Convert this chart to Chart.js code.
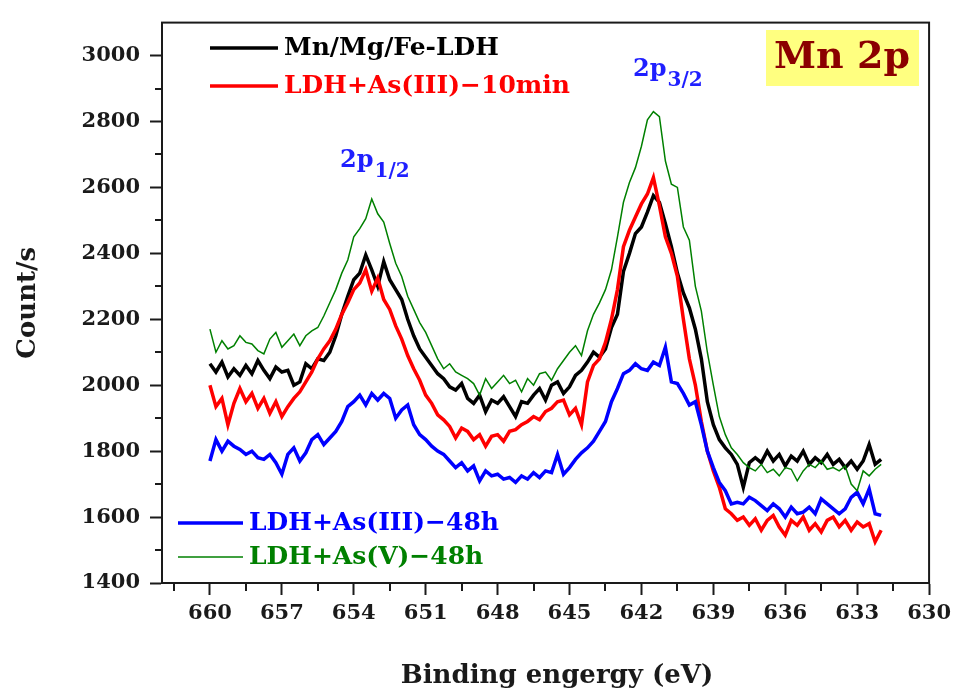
<!DOCTYPE html>
<html>
<head>
<meta charset="utf-8">
<title>Mn 2p XPS spectra</title>
<script src="https://cdn.jsdelivr.net/npm/chart.js@4.4.1/dist/chart.umd.min.js"></script>
<style>
  html, body { margin: 0; padding: 0; background: #ffffff; }
  #wrap { width: 957px; height: 691px; }
</style>
</head>
<body>
<div id="wrap"><canvas id="xps" width="957" height="691"></canvas></div>
<script>
// Binding energy grid (eV), high to low, 0.25 eV steps
const energy = [
  660,659.75,659.5,659.25,659,658.75,658.5,658.25,658,657.75,657.5,657.25,657,656.75,656.5,656.25,656,655.75,655.5,655.25,655,654.75,654.5,654.25,654,653.75,653.5,653.25,653,652.75,652.5,652.25,652,651.75,651.5,651.25,651,650.75,650.5,650.25,650,
  649.75,649.5,649.25,649,648.75,648.5,648.25,648,647.75,647.5,647.25,647,646.75,646.5,646.25,646,645.75,645.5,645.25,645,644.75,644.5,644.25,644,643.75,643.5,643.25,643,642.75,642.5,642.25,642,641.75,641.5,641.25,641,640.75,640.5,640.25,640,
  639.75,639.5,639.25,639,638.75,638.5,638.25,638,637.75,637.5,637.25,637,636.75,636.5,636.25,636,635.75,635.5,635.25,635,634.75,634.5,634.25,634,633.75,633.5,633.25,633,632.75,632.5,632.25,632
];

// Counts/s for each sample
const mnMgFeLDH = [
  2065,2040,2070,2025,2050,2030,2060,2035,2075,2045,2020,2055,2040,2045,2000,2010,2065,2050,2080,2075,2100,2150,2215,2270,2320,2340,2395,2350,2300,2375,2320,2290,2260,2200,2150,2110,2085,2060,2035,2020,1995,
  1985,2005,1960,1945,1970,1920,1955,1945,1965,1935,1905,1950,1945,1970,1990,1955,2000,2010,1975,1995,2030,2045,2070,2100,2085,2110,2175,2215,2345,2400,2460,2480,2525,2575,2555,2490,2420,2340,2280,2235,
  2170,2080,1950,1880,1835,1810,1790,1760,1690,1765,1780,1765,1800,1770,1790,1755,1785,1770,1800,1760,1780,1765,1790,1760,1775,1750,1770,1745,1770,1820,1760,1775
];
const as3_10min = [
  2000,1935,1960,1880,1945,1990,1950,1975,1930,1960,1915,1950,1905,1935,1960,1980,2010,2040,2080,2110,2135,2170,2215,2250,2290,2310,2350,2285,2325,2260,2230,2180,2140,2090,2050,2015,1970,1945,1910,1895,1875,
  1840,1870,1860,1835,1850,1815,1845,1850,1830,1860,1865,1880,1890,1905,1895,1920,1930,1950,1955,1910,1930,1880,2010,2060,2080,2130,2200,2290,2420,2470,2510,2550,2580,2630,2545,2450,2400,2330,2200,2080,
  2000,1890,1800,1740,1690,1625,1610,1590,1600,1575,1595,1560,1590,1605,1570,1545,1590,1575,1600,1560,1580,1555,1590,1600,1570,1590,1560,1585,1570,1580,1525,1560
];
const as3_48h = [
  1770,1835,1800,1830,1815,1805,1790,1800,1780,1775,1790,1765,1730,1790,1810,1770,1795,1835,1850,1820,1840,1860,1890,1935,1950,1970,1940,1975,1955,1975,1960,1900,1925,1940,1880,1850,1835,1815,1800,1790,1770,
  1750,1765,1740,1755,1710,1740,1725,1730,1715,1720,1705,1725,1715,1735,1720,1740,1735,1790,1730,1750,1775,1795,1810,1830,1860,1890,1950,1990,2035,2045,2065,2050,2045,2070,2060,2115,2010,2005,1975,1940,
  1950,1880,1800,1750,1705,1680,1640,1645,1640,1660,1650,1635,1620,1640,1625,1600,1630,1610,1615,1630,1610,1655,1640,1625,1610,1625,1660,1675,1640,1685,1610,1605
];
const as5_48h = [
  2170,2100,2135,2110,2120,2150,2130,2125,2105,2095,2140,2160,2115,2135,2155,2120,2150,2165,2175,2210,2250,2290,2340,2380,2450,2475,2505,2565,2520,2495,2430,2370,2330,2270,2230,2190,2160,2120,2080,2050,2065,
  2040,2030,2020,2005,1970,2020,1990,2010,2030,2005,2015,1980,2020,2000,2035,2040,2015,2050,2075,2100,2120,2090,2165,2215,2250,2290,2350,2450,2555,2615,2660,2725,2805,2830,2815,2680,2610,2600,2480,2440,
  2300,2225,2100,2000,1905,1850,1810,1790,1765,1750,1740,1760,1735,1745,1725,1750,1745,1710,1740,1760,1750,1770,1745,1750,1740,1755,1700,1680,1740,1725,1745,1760
];

// Axis ticks
const xTicks = [660, 657, 654, 651, 648, 645, 642, 639, 636, 633, 630];
const xMinorTicks = [661.5, 658.5, 655.5, 652.5, 649.5, 646.5, 643.5, 640.5, 637.5, 634.5, 631.5];
const yTicks = [1400, 1600, 1800, 2000, 2200, 2400, 2600, 2800, 3000];
const yMinorTicks = [1500, 1700, 1900, 2100, 2300, 2500, 2700, 2900];

const seriesLabels = ['Mn/Mg/Fe-LDH', 'LDH+As(III)\u221210min', 'LDH+As(III)\u221248h', 'LDH+As(V)\u221248h'];
const seriesColors = ['#000000', '#ff0000', '#0000ff', '#008000'];

const SERIF = '"DejaVu Serif", "Liberation Serif", serif';
const INK = '#1a1a1a';

const toPoints = vals => energy.map((e, i) => ({ x: e, y: vals[i] }));

const frameAndDecor = {
  id: 'frameAndDecor',
  afterDraw(chart) {
    const ctx = chart.ctx;
    const a = chart.chartArea;
    const xs = chart.scales.x, ys = chart.scales.y;
    ctx.save();

    // plot frame
    ctx.strokeStyle = INK;
    ctx.lineWidth = 2;
    ctx.strokeRect(a.left, a.top, a.right - a.left, a.bottom - a.top);

    // minor tick marks
    ctx.beginPath();
    xMinorTicks.forEach(v => {
      const px = Math.round(xs.getPixelForValue(v));
      ctx.moveTo(px, a.bottom);
      ctx.lineTo(px, a.bottom + 8);
    });
    yMinorTicks.forEach(v => {
      const py = Math.round(ys.getPixelForValue(v));
      ctx.moveTo(a.left, py);
      ctx.lineTo(a.left - 7, py);
    });
    ctx.stroke();

    // legends (two groups)
    const legendItem = (i, x1, x2, y, width) => {
      ctx.strokeStyle = seriesColors[i];
      ctx.lineWidth = width;
      ctx.beginPath();
      ctx.moveTo(x1, y);
      ctx.lineTo(x2, y);
      ctx.stroke();
      ctx.fillStyle = seriesColors[i];
      ctx.font = 'bold 25px ' + SERIF;
      ctx.textAlign = 'left';
      ctx.textBaseline = 'middle';
      ctx.fillText(seriesLabels[i], x2 + 6, y);
    };
    legendItem(0, 210, 278, 48, 3.5);
    legendItem(1, 210, 278, 86, 3.5);
    legendItem(2, 178, 243, 523, 3.5);
    legendItem(3, 178, 243, 557, 1.5);

    // peak labels with subscripts
    const peakLabel = (x, y, sub) => {
      ctx.fillStyle = '#1f1fff';
      ctx.textAlign = 'left';
      ctx.textBaseline = 'alphabetic';
      ctx.font = 'bold 24px ' + SERIF;
      ctx.fillText('2p', x, y);
      const w = ctx.measureText('2p').width;
      ctx.font = 'bold 20px ' + SERIF;
      ctx.fillText(sub, x + w + 1, y + 10);
    };
    peakLabel(340, 167, '1/2');
    peakLabel(633, 76, '3/2');

    // element tag
    ctx.fillStyle = '#ffff80';
    ctx.fillRect(766, 30, 153, 56);
    ctx.fillStyle = '#8b0000';
    ctx.font = 'bold 38px ' + SERIF;
    ctx.textAlign = 'center';
    ctx.textBaseline = 'middle';
    ctx.fillText('Mn 2p', 842, 58);

    // axis titles
    ctx.fillStyle = INK;
    ctx.font = 'bold 26px ' + SERIF;
    ctx.textAlign = 'center';
    ctx.textBaseline = 'middle';
    ctx.fillText('Binding engergy (eV)', 557, 676);
    ctx.save();
    ctx.translate(28, (a.top + a.bottom) / 2);
    ctx.rotate(-Math.PI / 2);
    ctx.fillText('Count/s', 0, 0);
    ctx.restore();

    ctx.restore();
  }
};

const tickFont = { family: SERIF, size: 21, weight: 'bold' };
const plainNumber = v => String(v);

new Chart(document.getElementById('xps'), {
  type: 'line',
  data: {
    datasets: [
      { label: seriesLabels[0], data: toPoints(mnMgFeLDH), borderColor: seriesColors[0], borderWidth: 3.5, order: 4 },
      { label: seriesLabels[1], data: toPoints(as3_10min), borderColor: seriesColors[1], borderWidth: 3.5, order: 3 },
      { label: seriesLabels[2], data: toPoints(as3_48h), borderColor: seriesColors[2], borderWidth: 3.5, order: 2 },
      { label: seriesLabels[3], data: toPoints(as5_48h), borderColor: seriesColors[3], borderWidth: 1.5, order: 1 }
    ]
  },
  options: {
    responsive: false,
    animation: false,
    devicePixelRatio: 1,
    elements: { point: { radius: 0 }, line: { tension: 0, fill: false } },
    layout: { padding: { top: 15, right: 24, left: 0, bottom: 0 } },
    plugins: { legend: { display: false }, tooltip: { enabled: false } },
    scales: {
      x: {
        type: 'linear',
        reverse: true,
        min: 630,
        max: 662,
        afterBuildTicks: s => { s.ticks = xTicks.map(v => ({ value: v })); },
        afterFit: s => { s.height = 108; },
        grid: { drawOnChartArea: false, drawTicks: true, tickLength: 12, tickWidth: 2, tickColor: INK },
        border: { display: true, color: INK, width: 2 },
        ticks: { font: tickFont, color: INK, padding: 6, maxRotation: 0, autoSkip: false, callback: plainNumber }
      },
      y: {
        type: 'linear',
        min: 1400,
        max: 3100,
        afterBuildTicks: s => { s.ticks = yTicks.map(v => ({ value: v })); },
        afterFit: s => { s.width = 162; },
        grid: { drawOnChartArea: false, drawTicks: true, tickLength: 12, tickWidth: 2, tickColor: INK },
        border: { display: true, color: INK, width: 2 },
        ticks: { font: tickFont, color: INK, padding: 10, autoSkip: false, callback: plainNumber }
      }
    }
  },
  plugins: [frameAndDecor]
});
</script>
</body>
</html>
